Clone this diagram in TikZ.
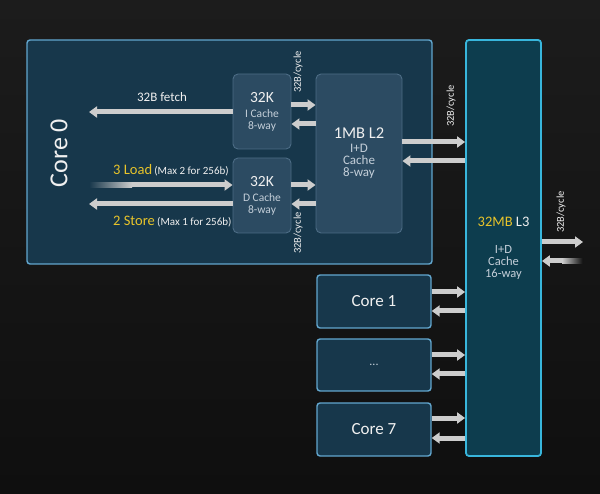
\documentclass[tikz,border=0pt]{standalone}
\usepackage{fontspec}
\setmainfont{Carlito}
\usetikzlibrary{arrows.meta,positioning}
\definecolor{bgdark}{HTML}{0F0F0F}
\definecolor{bgtop}{HTML}{1C1C1C}
\definecolor{corefill}{HTML}{17374B}
\definecolor{coreline}{HTML}{62A6CE}
\definecolor{cachefill}{HTML}{2C4B62}
\definecolor{cacheline}{HTML}{4C6C85}
\definecolor{lthreefill}{HTML}{0D3D4E}
\definecolor{lthreeline}{HTML}{38B6DC}
\definecolor{busgray}{HTML}{CDCDCD}
\definecolor{txtwhite}{HTML}{F0F0F0}
\definecolor{txtsub}{HTML}{C4CFD9}
\definecolor{ltyellow}{HTML}{E8C42A}
\newcommand{\fsz}[2]{\fontsize{#1}{#2}\selectfont}

\begin{document}
\begin{tikzpicture}[
  x=1pt,y=-1pt,
  corebox/.style={draw=coreline,fill=corefill,line width=1.4pt,rounded corners=3pt,inner sep=0pt},
  cachebox/.style={draw=cacheline,fill=cachefill,line width=0.9pt,rounded corners=5pt,
    inner sep=0pt,align=center,text=txtsub},
  bus/.style={draw=busgray,line width=5pt,-{Triangle[length=8pt,width=11pt]}},
  lbl/.style={text=txtwhite,inner sep=0pt},
  rate/.style={lbl,font=\fsz{10.5}{12},rotate=90}
]
\useasboundingbox (0,0) rectangle (600,494);
\shade[top color=bgtop,bottom color=bgdark] (0,0) rectangle (600,494);
% core 0 and its caches
\node[corebox,minimum width=405pt,minimum height=224pt] (core0) at (229.5,152) {};
\node[lbl,font=\fsz{26}{28},rotate=90] (corename) at (59,153) {Core 0};
\node[cachebox,minimum width=58pt,minimum height=75pt] (icache) at (262,111.5)
  {{\color{txtwhite}\fsz{15.5}{16}32K}\\[3pt]\fsz{11.5}{13}I Cache\\\fsz{11.5}{13}8-way};
\node[cachebox,minimum width=58pt,minimum height=75pt] (dcache) at (262,195.5)
  {{\color{txtwhite}\fsz{15.5}{16}32K}\\[3pt]\fsz{11.5}{13}D Cache\\\fsz{11.5}{13}8-way};
\node[cachebox,minimum width=86pt,minimum height=159pt] (ltwo) at (359,153.5)
  {{\color{txtwhite}\fsz{16.5}{17}1MB L2}\\[2pt]\fsz{13}{15}I+D\\\fsz{13}{15}Cache\\\fsz{13}{15}8-way};
% shared L3
\node[draw=lthreeline,fill=lthreefill,line width=1.8pt,rounded corners=3pt,inner sep=0pt,
  align=center,text=txtsub,minimum width=75pt,minimum height=416pt] (lthree) at (503.5,248)
  {{\fsz{14.5}{16}\color{ltyellow}32MB \color{txtwhite}L3}\\[15pt]\fsz{12.5}{14}I+D\\\fsz{12.5}{14}Cache\\\fsz{12.5}{14}16-way};
% other cores
\node[corebox,minimum width=114pt,minimum height=53pt,text=txtwhite,font=\fsz{17}{18}] (core1) at (374,301.5) {Core 1};
\node[corebox,minimum width=114pt,minimum height=52pt,text=txtsub,font=\fsz{12}{14}] (coredots) at (374,365) {...};
\node[corebox,minimum width=114pt,minimum height=53pt,text=txtwhite,font=\fsz{17}{18}] (core7) at (374,429.5) {Core 7};
% free ends
\coordinate (fetchend) at (89,112);
\coordinate (loadstart) at (89,185);
\coordinate (storeend) at (89,204);
\coordinate (l3out) at (583,242);
\coordinate (l3in) at (583,261);
% load/store/fetch
\draw[bus] (icache.west |- fetchend) -- (fetchend);
\draw[bus] (loadstart) -- (dcache.west |- loadstart);
\shade[left color=corefill,right color=busgray] (89,182.5) rectangle (132,187.5);
\draw[bus] (dcache.west |- storeend) -- (storeend);
% L1 <-> L2
\draw[bus] (icache.east |- 0,105) -- (ltwo.west |- 0,105);
\draw[bus] (ltwo.west |- 0,124) -- (icache.east |- 0,124);
\draw[bus] (dcache.east |- 0,185) -- (ltwo.west |- 0,185);
\draw[bus] (ltwo.west |- 0,204) -- (dcache.east |- 0,204);
% L2 <-> L3
\draw[bus] (ltwo.east |- 0,142) -- (lthree.west |- 0,142);
\draw[bus] (lthree.west |- 0,161) -- (ltwo.east |- 0,161);
% L3 off chip
\draw[bus] (lthree.east |- l3out) -- (l3out);
\draw[bus] (l3in) -- (lthree.east |- l3in);
\shade[left color=busgray,right color=bgdark] (562,258.5) rectangle (583,263.5);
% cores <-> L3
\foreach \c/\ya/\yb in {core1/292/311,coredots/355/374,core7/418/438}{
  \draw[bus] (\c.east |- 0,\ya) -- (lthree.west |- 0,\ya);
  \draw[bus] (lthree.west |- 0,\yb) -- (\c.east |- 0,\yb);
}
% labels
\node[lbl,font=\fsz{13}{14},anchor=base] (fetchlbl) at (162,102) {32B fetch};
\node[lbl,anchor=base west] (loadlbl) at (113,175)
  {{\fsz{14.5}{16}\color{ltyellow}3 Load} {\fsz{11}{12}(Max 2 for 256b)}};
\node[lbl,anchor=base west] (storelbl) at (113,226)
  {{\fsz{14.5}{16}\color{ltyellow}2 Store} {\fsz{11}{12}(Max 1 for 256b)}};
\node[rate] (rateia) at (298,72) {32B/cycle};
\node[rate] (rateda) at (298,233) {32B/cycle};
\node[rate] (ratelt) at (451,106) {32B/cycle};
\node[rate] (rateout) at (561,212) {32B/cycle};
\end{tikzpicture}
\end{document}
